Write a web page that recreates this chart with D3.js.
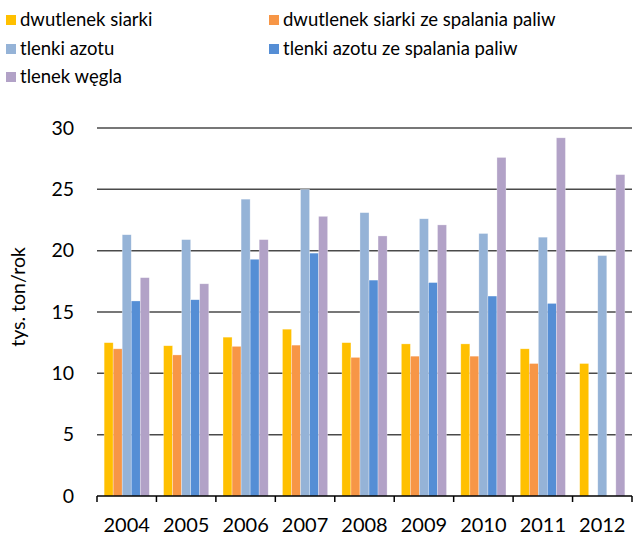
<!DOCTYPE html>
<html>
<head>
<meta charset="utf-8">
<script src="https://cdn.jsdelivr.net/npm/d3@7"></script>
<style>
  body { margin: 0; background: #fff; }
  svg { display: block; font-family: Lato, "Open Sans", sans-serif; }
</style>
</head>
<body>
<svg id="chart" width="641" height="537"></svg>
<script>
const years = ["2004", "2005", "2006", "2007", "2008", "2009", "2010", "2011", "2012"];
const seriesNames = [
  "dwutlenek siarki",
  "dwutlenek siarki ze spalania paliw",
  "tlenki azotu",
  "tlenki azotu ze spalania paliw",
  "tlenek węgla"
];
const so2 = [12.5, 12.25, 12.95, 13.6, 12.5, 12.4, 12.4, 12.0, 10.8];
const so2Fuel = [12.0, 11.5, 12.2, 12.3, 11.3, 11.4, 11.4, 10.8, null];
const nox = [21.3, 20.9, 24.2, 25.0, 23.1, 22.6, 21.4, 21.1, 19.6];
const noxFuel = [15.9, 16.0, 19.3, 19.8, 17.6, 17.4, 16.3, 15.7, null];
const co = [17.8, 17.3, 20.9, 22.8, 21.2, 22.1, 27.6, 29.2, 26.2];
const yTicks = [0, 5, 10, 15, 20, 25, 30];
const colors = ["#FFC000", "#F79646", "#95B3D7", "#558ED5", "#B2A2C7"];

const seriesValues = [so2, so2Fuel, nox, noxFuel, co];

const svg = d3.select("#chart");
const plotLeft = 97, plotRight = 632, plotTop = 128, plotBottom = 496;

const x0 = d3.scaleBand().domain(years).range([plotLeft, plotRight]).paddingInner(0.24).paddingOuter(0.12);
const x1 = d3.scaleBand().domain(d3.range(seriesNames.length)).range([0, x0.bandwidth()]);
const y = d3.scaleLinear().domain([0, 30]).range([plotBottom, plotTop]);

// horizontal gridlines
svg.append("g")
  .selectAll("line")
  .data(yTicks.filter(t => t > 0))
  .join("line")
  .attr("x1", plotLeft).attr("x2", plotRight)
  .attr("y1", d => y(d)).attr("y2", d => y(d))
  .attr("stroke", "#4a4a4a").attr("stroke-width", 1.5);

// y tick labels
svg.append("g")
  .selectAll("text")
  .data(yTicks)
  .join("text")
  .attr("x", 74).attr("y", d => y(d))
  .attr("dy", "0.35em")
  .attr("text-anchor", "end")
  .attr("font-size", 19.5)
  .attr("fill", "#000")
  .text(d => d);

// y axis title
svg.append("text")
  .attr("transform", "translate(25,297) rotate(-90)")
  .attr("text-anchor", "middle")
  .attr("font-size", 19.5)
  .attr("fill", "#000")
  .text("tys. ton/rok");

// bars
const groups = svg.append("g")
  .selectAll("g")
  .data(years)
  .join("g")
  .attr("transform", d => `translate(${x0(d)},0)`);

groups.selectAll("rect")
  .data((d, i) => seriesValues.map((vals, s) => ({ s, v: vals[i] })).filter(e => e.v != null))
  .join("rect")
  .attr("x", d => x1(d.s))
  .attr("width", x1.bandwidth())
  .attr("y", d => y(d.v))
  .attr("height", d => y(0) - y(d.v))
  .attr("fill", d => colors[d.s])
  .attr("stroke", "#fff")
  .attr("stroke-opacity", 0.5)
  .attr("stroke-width", 0.6);

// category axis: baseline with boundary ticks
const xAxis = svg.append("g");
xAxis.append("line")
  .attr("x1", plotLeft).attr("x2", plotRight)
  .attr("y1", plotBottom).attr("y2", plotBottom)
  .attr("stroke", "#000").attr("stroke-width", 1.5);
const boundaries = years.map(yr => x0(yr) - x0.step() * x0.paddingOuter()).concat([plotRight]);
xAxis.selectAll("line.tick")
  .data(boundaries)
  .join("line")
  .attr("class", "tick")
  .attr("x1", d => d).attr("x2", d => d)
  .attr("y1", plotBottom).attr("y2", plotBottom + 6)
  .attr("stroke", "#000").attr("stroke-width", 1.5);
xAxis.selectAll("text")
  .data(years)
  .join("text")
  .attr("x", d => x0(d) + x0.bandwidth() / 2)
  .attr("y", 532)
  .attr("text-anchor", "middle")
  .attr("font-size", 20)
  .attr("fill", "#000")
  .text(d => d);

// legend
const legendPos = [
  { x: 6, y: 20 }, { x: 269, y: 20 },
  { x: 6, y: 49 }, { x: 269, y: 49 },
  { x: 6, y: 77 }
];
const legend = svg.append("g")
  .selectAll("g")
  .data(seriesNames)
  .join("g")
  .attr("transform", (d, i) => `translate(${legendPos[i].x},${legendPos[i].y})`);
legend.append("rect")
  .attr("x", 0).attr("y", -5)
  .attr("width", 10).attr("height", 10)
  .attr("fill", (d, i) => colors[i]);
legend.append("text")
  .attr("x", 14).attr("y", 0)
  .attr("dy", "0.35em")
  .attr("font-size", 18.5)
  .attr("fill", "#000")
  .text(d => d);
</script>
</body>
</html>
